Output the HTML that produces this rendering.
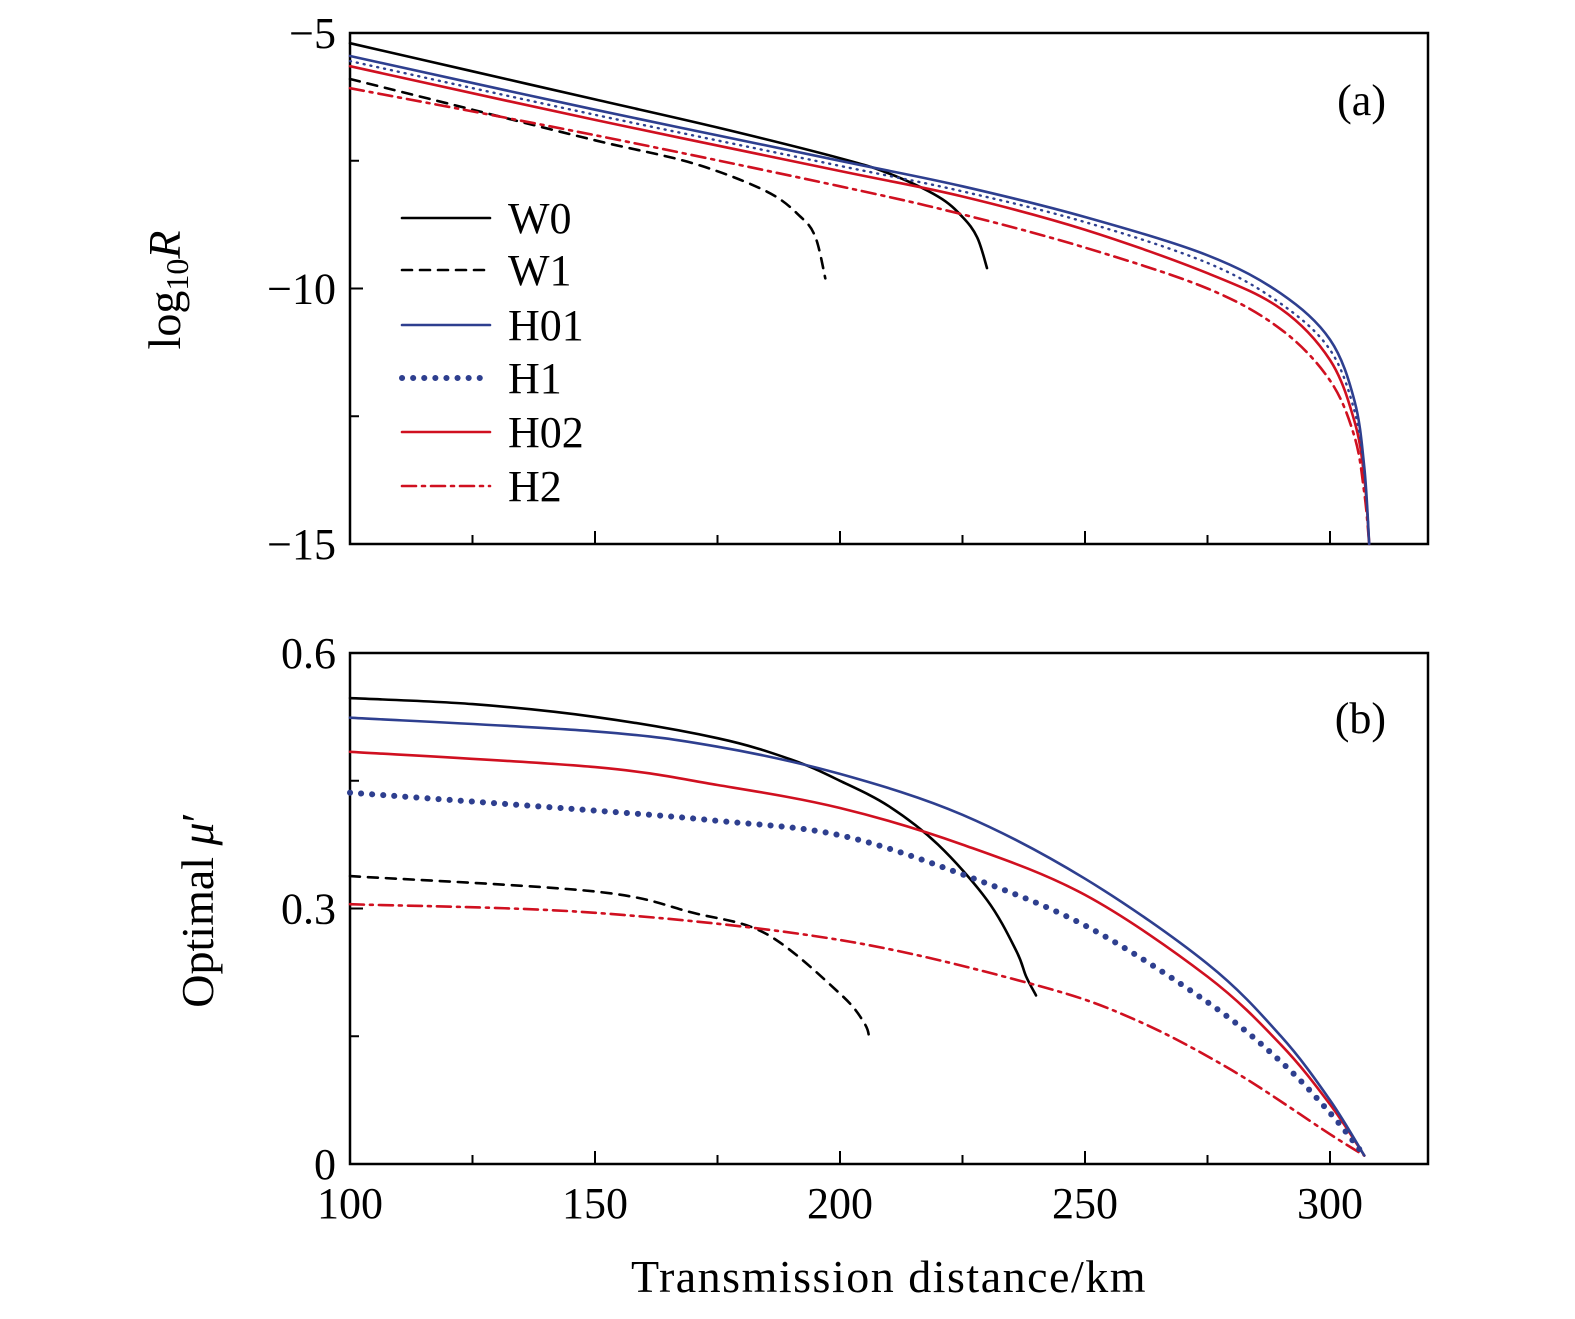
<!DOCTYPE html>
<html><head><meta charset="utf-8"><style>
html,body{margin:0;padding:0;background:#fff;}
svg{display:block;font-family:"Liberation Serif","DejaVu Serif",serif;}
</style></head><body>
<svg id="chart" width="1575" height="1319" viewBox="0 0 1575 1319" xmlns="http://www.w3.org/2000/svg"></svg>
<script>
// ---- data ----
const xMajorTicks=[100,150,200,250,300];
const yTicksA=[-5,-10,-15];
const yTicksB=[0,0.3,0.6];
const yTickLabelsA=["\u22125","\u221210","\u221215"];
const yTickLabelsB=["0","0.3","0.6"];
// panel (a): log10 R
const w0A_x=[100,125,150,175,200,210,220,225,228,230];
const w0A_y=[-5.2,-5.75,-6.3,-6.85,-7.45,-7.75,-8.2,-8.6,-9.0,-9.6];
const w1A_x=[100,125,150,170,185,192,195,197];
const w1A_y=[-5.9,-6.5,-7.1,-7.55,-8.1,-8.6,-9.0,-9.8];
const hA_x=[100,150,200,225,250,275,290,300,305,307,308];
const h01A_y=[-5.45,-6.5,-7.5,-8.0,-8.6,-9.35,-10.1,-11.0,-12.2,-13.5,-15];
const h1A_y=[-5.55,-6.6,-7.6,-8.1,-8.7,-9.5,-10.3,-11.2,-12.4,-13.6,-15];
const h02A_y=[-5.65,-6.7,-7.7,-8.2,-8.85,-9.7,-10.4,-11.4,-12.6,-13.7,-15];
const h2A_y=[-6.08,-7.0,-8.0,-8.55,-9.2,-10.0,-10.8,-11.8,-12.9,-14.0,-15];
// panel (b): optimal mu'
const w0B_x=[100,125,150,175,190,200,210,220,230,236,238,240];
const w0B_y=[0.547,0.54,0.525,0.5,0.475,0.45,0.42,0.375,0.31,0.25,0.22,0.198];
const w1B_x=[100,150,170,185,200,205,206];
const w1B_y=[0.338,0.32,0.295,0.27,0.2,0.165,0.146];
const hB_x=[100,150,175,200,225,250,275,290,300,307];
const h01B_y=[0.524,0.508,0.49,0.458,0.41,0.335,0.235,0.15,0.075,0.01];
const h1B_y=[0.436,0.415,0.403,0.386,0.34,0.28,0.19,0.12,0.06,0.01];
const h02B_y=[0.484,0.466,0.445,0.418,0.375,0.316,0.22,0.14,0.07,0.01];
const h2B_x=[100,150,200,240,260,280,300,307];
const h2B_y=[0.305,0.295,0.263,0.21,0.17,0.11,0.035,0.01];
const legendLabels=["W0","W1","H01","H1","H02","H2"];

// ---- layout ----
const L=350,R=1428;
const xs=v=>L+(v-100)*(R-L)/220;
const aT=33,aB=544,bT=653,bB=1164;
const ysA=v=>aT+(-5-v)*(aB-aT)/10;
const ysB=v=>bB-v*(bB-bT)/0.6;
const svg=document.getElementById('chart');
const NS="http://www.w3.org/2000/svg";
function el(tag,attrs,parent){const e=document.createElementNS(NS,tag);for(const k in attrs)e.setAttribute(k,attrs[k]);(parent||svg).appendChild(e);return e;}
const styles={
 W0:{stroke:"#000",dash:"",w:2.6},
 W1:{stroke:"#000",dash:"10 8",w:2.6},
 H01:{stroke:"#2e3f8f",dash:"",w:2.6},
 H1:{stroke:"#2e3f8f",dash:"1 6",w:2.6},
 H02:{stroke:"#d01020",dash:"",w:2.6},
 H2:{stroke:"#d01020",dash:"14 6 3 6",w:2.6}
};
function smoothPath(pts){
 let d="M"+pts[0][0].toFixed(1)+","+pts[0][1].toFixed(1);
 for(let i=0;i<pts.length-1;i++){
  const p0=pts[i-1]||pts[i],p1=pts[i],p2=pts[i+1],p3=pts[i+2]||p2;
  const c1x=p1[0]+(p2[0]-p0[0])/6,c1y=p1[1]+(p2[1]-p0[1])/6;
  const c2x=p2[0]-(p3[0]-p1[0])/6,c2y=p2[1]-(p3[1]-p1[1])/6;
  d+=" C"+c1x.toFixed(1)+","+c1y.toFixed(1)+" "+c2x.toFixed(1)+","+c2y.toFixed(1)+" "+p2[0].toFixed(1)+","+p2[1].toFixed(1);
 }
 return d;
}
function series(name,xa,ya,ys,dname,wOverride){
 const s=styles[name];
 const pts=xa.map((x,i)=>[xs(x),ys(ya[i])]);
 const p=el('path',{d:smoothPath(pts),fill:"none",stroke:s.stroke,"stroke-width":wOverride||s.w,"stroke-dasharray":s.dash,"stroke-linecap":"round"});
 
 
}
function frame(top,bot,name,yT,yL,ys,minorY){
 const r=el('rect',{x:L,y:top,width:R-L,height:bot-top,fill:"none",stroke:"#000","stroke-width":2.5});
 
 
 for(let v=100;v<=320;v+=25){
  const maj=xMajorTicks.includes(v);
  const t=el('line',{x1:xs(v),x2:xs(v),y1:bot,y2:bot-(maj?13:9),stroke:"#000","stroke-width":2});
  
  
 }
 yT.forEach((v,i)=>{
  const t=el('line',{x1:L,x2:L+13,y1:ys(v),y2:ys(v),stroke:"#000","stroke-width":2});
  
  
  const tx=el('text',{x:L-14,y:ys(v)+15,"font-size":44,"text-anchor":"end"});
  tx.textContent=yL[i];
  
  
 });
 minorY.forEach(v=>{
  const t=el('line',{x1:L,x2:L+9,y1:ys(v),y2:ys(v),stroke:"#000","stroke-width":2});
  
  
 });
}
frame(aT,aB,'panel-a',yTicksA,yTickLabelsA,ysA,[-7.5,-12.5]);
frame(bT,bB,'panel-b',yTicksB,yTickLabelsB,ysB,[0.15,0.45]);
xMajorTicks.forEach(v=>{
 const t=el('text',{x:xs(v),y:1218,"font-size":44,"text-anchor":"middle"});
 t.textContent=v;
 
 
});
series("W0",w0A_x,w0A_y,ysA,'w0-line-a');
series("W1",w1A_x,w1A_y,ysA,'w1-line-a');
series("H02",hA_x,h02A_y,ysA,'h02-line-a');
series("H2",hA_x,h2A_y,ysA,'h2-line-a');
series("H1",hA_x,h1A_y,ysA,'h1-line-a',2.4);
series("H01",hA_x,h01A_y,ysA,'h01-line-a');
series("W0",w0B_x,w0B_y,ysB,'w0-line-b');
series("W1",w1B_x,w1B_y,ysB,'w1-line-b');
series("H2",h2B_x,h2B_y,ysB,'h2-line-b');
series("H02",hB_x,h02B_y,ysB,'h02-line-b');
series("H01",hB_x,h01B_y,ysB,'h01-line-b');
styles.H1.dash="0.1 11";
series("H1",hB_x,h1B_y,ysB,'h1-line-b',6);
const legRows=[218,270,325,378,432,486];
legendLabels.forEach((lab,i)=>{
 const s=styles[lab];
 let dash=s.dash,w=s.w;
 if(lab==="H1"){dash="0.1 11";w=6;}
 const ln=el('line',{x1:402,x2:490,y1:legRows[i],y2:legRows[i],stroke:s.stroke,"stroke-width":w,"stroke-dasharray":dash,"stroke-linecap":"round"});
 
 
 const t=el('text',{x:508,y:legRows[i]+15,"font-size":44});
 t.textContent=lab;
 
 
});
const pa=el('text',{x:1386,y:115,"font-size":44,"text-anchor":"end"});pa.textContent="(a)";

const pb=el('text',{x:1386,y:733,"font-size":44,"text-anchor":"end"});pb.textContent="(b)";

const ya=el('text',{transform:"translate(180,290) rotate(-90)","font-size":46,"text-anchor":"middle"});
ya.innerHTML='log<tspan font-size="32" dy="8">10</tspan><tspan dy="-8" font-style="italic">R</tspan>';

const yb=el('text',{transform:"translate(213,910) rotate(-90)","font-size":46,"text-anchor":"middle"});
yb.innerHTML='Optimal <tspan font-style="italic">μ</tspan>′';

const xt=el('text',{x:889,y:1292,"font-size":46,"text-anchor":"middle","letter-spacing":"1.5"});
xt.textContent="Transmission distance/km";

</script>
</body></html>
